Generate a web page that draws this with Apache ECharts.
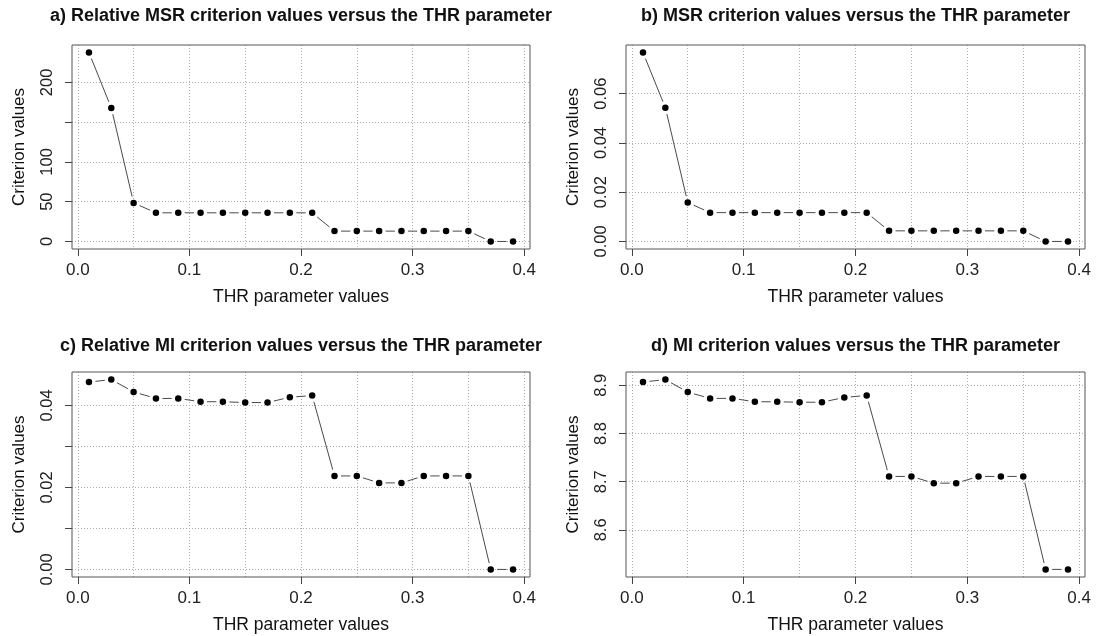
<!DOCTYPE html>
<html><head><meta charset="utf-8">
<script src="https://cdn.jsdelivr.net/npm/echarts@6/dist/echarts.min.js"></script>
<style>html,body{margin:0;padding:0;background:#fff}#c{width:1098px;height:636px}</style>
</head><body><div id="c"></div>
<script>
// ---- data ----
const thr = [0.01,0.03,0.05,0.07,0.09,0.11,0.13,0.15,0.17,0.19,0.21,0.23,0.25,0.27,0.29,0.31,0.33,0.35,0.37,0.39];
const relMSR = [237.6,168,48.5,36,36,36,36,36,36,36,36,13,13,13,13,13,13,13,0,0];
const msr = [0.0767,0.0543,0.0158,0.0117,0.0117,0.0117,0.0117,0.0117,0.0117,0.0117,0.0117,0.0043,0.0043,0.0043,0.0043,0.0043,0.0043,0.0043,0,0];
const relMI = [0.0457,0.0463,0.0433,0.0417,0.0417,0.0409,0.0409,0.0407,0.0407,0.0420,0.0424,0.0228,0.0228,0.0211,0.0211,0.0228,0.0228,0.0228,0,0];
const mi = [8.907,8.912,8.886,8.873,8.873,8.866,8.866,8.865,8.865,8.875,8.879,8.711,8.711,8.697,8.697,8.711,8.711,8.711,8.518,8.518];

const titles = [
  'a) Relative MSR criterion values versus the THR parameter',
  'b) MSR criterion values versus the THR parameter',
  'c) Relative MI criterion values versus the THR parameter',
  'd) MI criterion values versus the THR parameter'
];
const xName = 'THR parameter values';
const yName = 'Criterion values';

const xTickValues = [0, 0.1, 0.2, 0.3, 0.4];
const xTickLabels = ['0.0','0.1','0.2','0.3','0.4'];
const relMSRTicks = [0, 50, 100, 150, 200];
const relMSRLabels = ['0','50','100','','200'];
const msrTicks = [0, 0.02, 0.04, 0.06];
const msrLabels = ['0.00','0.02','0.04','0.06'];
const relMITicks = [0, 0.01, 0.02, 0.03, 0.04];
const relMILabels = ['0.00','','0.02','','0.04'];
const miTicks = [8.6, 8.7, 8.8, 8.9];
const miLabels = ['8.6','8.7','8.8','8.9'];

// ---- layout ----
const FONT = 'Liberation Sans';
const panels = [
  {title: titles[0], y: relMSR, ticks: relMSRTicks, labels: relMSRLabels, box: [72, 45, 458, 204], tOff: 29},
  {title: titles[1], y: msr, ticks: msrTicks, labels: msrLabels, box: [626, 45, 459, 204], tOff: 29},
  {title: titles[2], y: relMI, ticks: relMITicks, labels: relMILabels, box: [72, 372, 458, 205], tOff: 26},
  {title: titles[3], y: mi, ticks: miTicks, labels: miLabels, box: [626, 372, 459, 205], tOff: 26}
];

const grid = [], xAxis = [], yAxis = [], series = [], graphic = [];
const ext = a => { const mn = Math.min(...a), mx = Math.max(...a), p = (mx - mn) * 0.04; return [mn - p, mx + p]; };
const xr = ext(thr);
const gridLine = {color: '#adadad', type: [1, 2], width: 1};
const tickStyle = {color: '#444', width: 1};
const labelFor = (vals, labs) => v => { let best = 0; vals.forEach((t, i) => { if (Math.abs(t - v) < Math.abs(vals[best] - v)) best = i; }); return labs[best]; };

panels.forEach((p, k) => {
  const [L, T, W, H] = p.box;
  const yr = ext(p.y);
  const g0 = grid.length;
  // data grid with box
  grid.push({left: L, top: T, width: W, height: H, show: true, borderColor: '#555', borderWidth: 1, z: 3});
  xAxis.push({gridIndex: g0, type: 'value', min: xr[0], max: xr[1],
    name: xName, nameLocation: 'middle', nameGap: 39,
    nameTextStyle: {fontFamily: FONT, fontSize: 17.5, color: '#111'},
    axisLine: {show: false}, axisTick: {show: false}, axisLabel: {show: false}, splitLine: {show: false}});
  yAxis.push({gridIndex: g0, type: 'value', min: yr[0], max: yr[1],
    name: yName, nameLocation: 'middle', nameGap: 44,
    nameTextStyle: {fontFamily: FONT, fontSize: 17, color: '#111'},
    axisLine: {show: false}, axisTick: {show: false}, axisLabel: {show: false}, splitLine: {show: false}});
  // x tick grid
  const tx0 = xTickValues[0], tx1 = xTickValues[xTickValues.length - 1];
  grid.push({left: L + (tx0 - xr[0]) / (xr[1] - xr[0]) * W, top: T,
    width: (tx1 - tx0) / (xr[1] - xr[0]) * W, height: H});
  xAxis.push({gridIndex: g0 + 1, type: 'value', min: tx0, max: tx1, interval: xTickValues[1] - xTickValues[0],
    axisLine: {show: false},
    axisTick: {show: true, length: 7, lineStyle: tickStyle},
    axisLabel: {margin: 13, fontFamily: FONT, fontSize: 17, color: '#222', formatter: labelFor(xTickValues, xTickLabels)},
    splitLine: {show: true, lineStyle: gridLine},
    minorTick: {show: false, splitNumber: 2},
    minorSplitLine: {show: true, lineStyle: gridLine}});
  yAxis.push({gridIndex: g0 + 1, type: 'value', min: 0, max: 1, show: false});
  // y tick grid
  const ty0 = p.ticks[0], ty1 = p.ticks[p.ticks.length - 1];
  grid.push({left: L, width: W, top: T + (yr[1] - ty1) / (yr[1] - yr[0]) * H,
    height: (ty1 - ty0) / (yr[1] - yr[0]) * H});
  xAxis.push({gridIndex: g0 + 2, type: 'value', min: 0, max: 1, show: false});
  yAxis.push({gridIndex: g0 + 2, type: 'value', min: ty0, max: ty1, interval: p.ticks[1] - p.ticks[0],
    axisLine: {show: false},
    axisTick: {show: true, length: 7, lineStyle: tickStyle},
    axisLabel: {margin: 16, rotate: 90, fontFamily: FONT, fontSize: 16.5, color: '#222', formatter: labelFor(p.ticks, p.labels)},
    splitLine: {show: true, lineStyle: gridLine}});

  // series
  const segs = [];
  for (let i = 0; i < thr.length - 1; i++) segs.push([thr[i], p.y[i], thr[i + 1], p.y[i + 1]]);
  series.push({type: 'custom', xAxisIndex: g0, yAxisIndex: g0, data: segs, z: 4,
    encode: {x: [0, 2], y: [1, 3]},
    renderItem: (params, api) => {
      const a = api.coord([api.value(0), api.value(1)]);
      const b = api.coord([api.value(2), api.value(3)]);
      const dx = b[0] - a[0], dy = b[1] - a[1], len = Math.hypot(dx, dy), g = 6.5;
      if (len <= 2 * g) return null;
      const ux = dx / len, uy = dy / len;
      return {type: 'line', shape: {x1: a[0] + ux * g, y1: a[1] + uy * g, x2: b[0] - ux * g, y2: b[1] - uy * g},
        style: {stroke: '#4a4a4a', lineWidth: 1}};
    }});
  series.push({type: 'scatter', xAxisIndex: g0, yAxisIndex: g0, z: 5,
    data: thr.map((x, i) => [x, p.y[i]]), symbol: 'circle', symbolSize: 6.5,
    itemStyle: {color: '#000', opacity: 1}, emphasis: {disabled: true}});

  graphic.push({type: 'text', x: L + W / 2, y: T - p.tOff,
    style: {text: p.title, fontFamily: FONT, fontWeight: 'bold', fontSize: 18, fill: '#111', textAlign: 'center', textVerticalAlign: 'middle'}});
});

const chart = echarts.init(document.getElementById('c'), null, {renderer: 'canvas'});
chart.setOption({animation: false, backgroundColor: '#fff', grid, xAxis, yAxis, series, graphic});
</script>
</body></html>
